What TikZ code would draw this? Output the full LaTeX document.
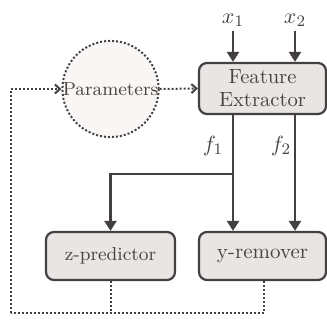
\documentclass[tikz,border=0pt]{standalone}
\usetikzlibrary{arrows.meta,calc}
\definecolor{boxfill}{HTML}{E9E5E4}
\definecolor{circfill}{HTML}{F9F7F5}
\definecolor{ink}{HTML}{444040}
\definecolor{txt}{HTML}{4A4242}
\begin{document}
\begin{tikzpicture}[x=0.5pt,y=-0.5pt,
  font=\fontsize{9.4}{10.8}\selectfont,
  box/.style={draw=ink,line width=1.1pt,fill=boxfill,rounded corners=4pt,text=txt,align=center,inner sep=0pt},
  arr/.style={draw=ink,line width=1.2pt,-{Triangle[length=5pt,width=6pt]}},
  dotl/.style={draw=ink,line width=1pt,dash pattern=on 1pt off 1pt},
  darr/.style={dotl,-{Straight Barb[length=2.5pt,width=4.5pt,line width=1pt]}},
  lbl/.style={text=txt,inner sep=0pt,font=\fontsize{11}{12}\selectfont}]
\useasboundingbox (0,0) rectangle (327,324);
\node[box,minimum width=63.5pt,minimum height=25.5pt,font=\fontsize{10.3}{11.6}\selectfont] (fe) at (262.5,88.5) {Feature\\Extractor};
\node[draw=ink,dash pattern=on 1pt off 1pt,line width=1pt,fill=circfill,circle,minimum size=47pt,inner sep=0pt,text=txt] (par) at (110.5,89) {Parameters};
\node[box,minimum width=64.5pt,minimum height=24pt] (zp) at (110.5,256) {z-predictor};
\node[box,minimum width=63.5pt,minimum height=24pt,font=\fontsize{10.5}{12}\selectfont] (yr) at (262.5,256) {y-remover};
\node[lbl] (x1) at (233,20) {$x_1$};
\node[lbl] (x2) at (295,20) {$x_2$};
\node[lbl] (f1) at (213,146) {$f_1$};
\node[lbl] (f2) at (281,146) {$f_2$};
\coordinate (lt) at (11,89);
\coordinate (lb) at (11,313);
\coordinate (br) at (233,174);
\coordinate (yb) at (264,313);
% solid arrows
\draw[arr] ($(x1.south)+(0,4)$) -- (fe.north -| x1);
\draw[arr] ($(x2.south)+(0,4)$) -- (fe.north -| x2);
\draw[arr] (fe.south -| x1) -- (yr.north -| x1);
\draw[arr] (fe.south -| x2) -- (yr.north -| x2);
\draw[arr] (br) -| (zp.north);
% dotted
\draw[darr] (par.east) -- (fe.west);
\draw[darr] (lb) -- (lt) -- (par.west);
\draw[dotl] (zp.south) -- (zp.south |- lb);
\draw[dotl] (yr.south -| yb) -- (yb) -- (lb);
\end{tikzpicture}
\end{document}
